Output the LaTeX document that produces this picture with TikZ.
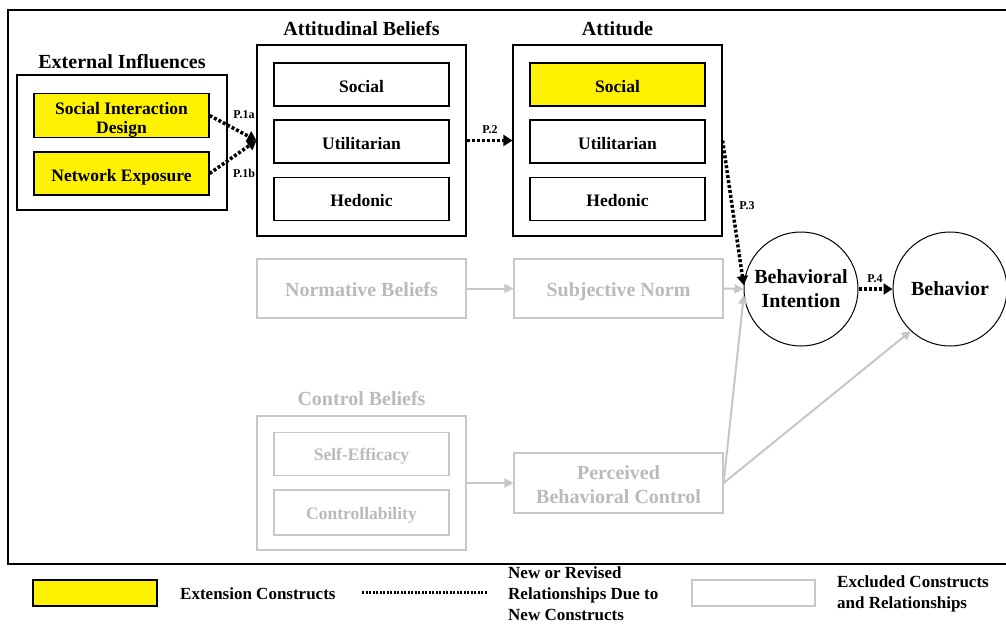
\documentclass[tikz,border=0pt]{standalone}
\usepackage{fontspec}
\setmainfont{Liberation Serif}
\usetikzlibrary{arrows.meta}
\tikzset{
  hd/.style={font=\fontsize{20}{24}\selectfont\bfseries},
  frm/.style={draw, line width=1.2pt, minimum width=209pt, inner sep=0pt},
  cbox/.style={draw, line width=1.2pt, minimum width=175pt, minimum height=43pt, inner sep=0pt,
    align=center, font=\fontsize{17.5}{19}\selectfont\bfseries},
  one/.style={text height=15pt, text depth=0pt},
  ext/.style={cbox, fill=yellow},
  gone/.style={draw=black!22, text=black!27},
  gbox/.style={gone, line width=1.2pt, minimum width=209pt, minimum height=59pt, inner sep=0pt,
    align=center, font=\fontsize{20}{24}\selectfont\bfseries},
  crc/.style={circle, draw, line width=1pt, minimum size=114pt, inner sep=0pt, align=center,
    font=\fontsize{20}{24}\selectfont\bfseries},
  lab/.style={font=\fontsize{12}{14}\selectfont\bfseries, inner sep=0pt},
  leg/.style={font=\fontsize{17}{21}\selectfont\bfseries, align=left, anchor=west, inner sep=0pt},
  newrel/.style={line width=3.5pt, dash pattern=on 3pt off 2pt, -{Triangle[length=9pt,width=11pt]}},
  oldrel/.style={draw=black!22, line width=2pt, -{Triangle[length=9pt,width=9pt]}}
}
\begin{document}
\begin{tikzpicture}[x=1pt, y=-1pt]
  \useasboundingbox (0,0) rectangle (1006,624);
  % outer frame, open on the right
  \draw[line width=1.5pt] (1012,10) -- (8,10) -- (8,564) -- (1012,564);

  % external influences
  \node[hd] (extt) at (122,62) {External Influences};
  \node[frm, minimum width=210pt, minimum height=135pt] (ext) at (122,142.5) {};
  \node[ext] (sid) at (121.5,115.5) {\rule{0pt}{21pt}Social Interaction\\Design};
  \node[ext, one] (nexp) at (121.5,173.5) {Network Exposure};

  % attitudinal beliefs
  \node[hd] (abt) at (361.5,29) {Attitudinal Beliefs};
  \node[frm, minimum height=191pt] (ab) at (361.5,140.5) {};
  \node[cbox, one] (bsoc) at (361.5,84.5) {Social};
  \node[cbox, one] (butil) at (361.5,141.5) {Utilitarian};
  \node[cbox, one] (bhed) at (361.5,199) {Hedonic};

  % attitude
  \node[hd] (att) at (617.5,29) {Attitude};
  \node[frm, minimum height=191pt] (at) at (617.5,140.5) {};
  \node[ext, one] (asoc) at (617.5,84.5) {Social};
  \node[cbox, one] (autil) at (617.5,141.5) {Utilitarian};
  \node[cbox, one] (ahed) at (617.5,199) {Hedonic};

  % excluded constructs
  \node[gbox, one, text height=16pt] (norm) at (361.5,288.5) {Normative Beliefs};
  \node[gbox, one, text height=16pt] (subj) at (618.5,288.5) {Subjective Norm};
  \node[hd, text=black!27] (cbt) at (361.5,399) {Control Beliefs};
  \node[gbox, minimum height=134pt] (cb) at (361.5,483) {};
  \node[cbox, gone, one, text height=13pt] (seff) at (361.5,454) {Self-Efficacy};
  \node[cbox, gone, one, text height=13pt, minimum height=45pt] (cont) at (361.5,512.5) {Controllability};
  \node[gbox, minimum height=60pt] (pbc) at (618.5,483) {\rule{0pt}{18pt}Perceived\\Behavioral Control};

  % intention and behavior
  \node[crc] (bi) at (801,289) {Behavioral\\Intention};
  \node[crc] (beh) at (950,289) {Behavior};

  % relationships
  \draw[newrel] (sid.east) -- (ab.west);
  \draw[newrel] (nexp.east) -- (ab.west);
  \draw[newrel] (ab.east) -- (at.west);
  \draw[newrel] (at.east) -- (bi.176);
  \draw[newrel] (bi.east) -- (beh.west);
  \draw[oldrel] (norm.east) -- (subj.west);
  \draw[oldrel] (subj.east) -- (bi.west);
  \draw[oldrel] (cb.east |- pbc.west) -- (pbc.west);
  \draw[oldrel] (pbc.east) -- (bi.186);
  \draw[oldrel] (pbc.east) -- (beh.227);
  \node[lab] (p1a) at (244,115) {P.1a};
  \node[lab] (p1b) at (244,173) {P.1b};
  \node[lab] (p2) at (490,130) {P.2};
  \node[lab] (p3) at (747,206) {P.3};
  \node[lab] (p4) at (875,279) {P.4};

  % legend
  \node[draw, line width=1.2pt, fill=yellow, minimum width=124pt, minimum height=26pt] (kext) at (95,593) {};
  \node[leg] (kextt) at (180,594) {Extension Constructs};
  \coordinate (kl) at (362,592);
  \coordinate (kr) at (487,592);
  \draw[line width=3pt, dash pattern=on 2pt off 1.5pt] (kl) -- (kr);
  \node[leg] (knew) at (508,594) {New or Revised\\Relationships Due to\\New Constructs};
  \node[draw=black!22, line width=1.2pt, minimum width=123pt, minimum height=26pt] (kgone) at (753.5,593) {};
  \node[leg] (kgonet) at (837,594) {Excluded Constructs\\and Relationships};
\end{tikzpicture}
\end{document}
